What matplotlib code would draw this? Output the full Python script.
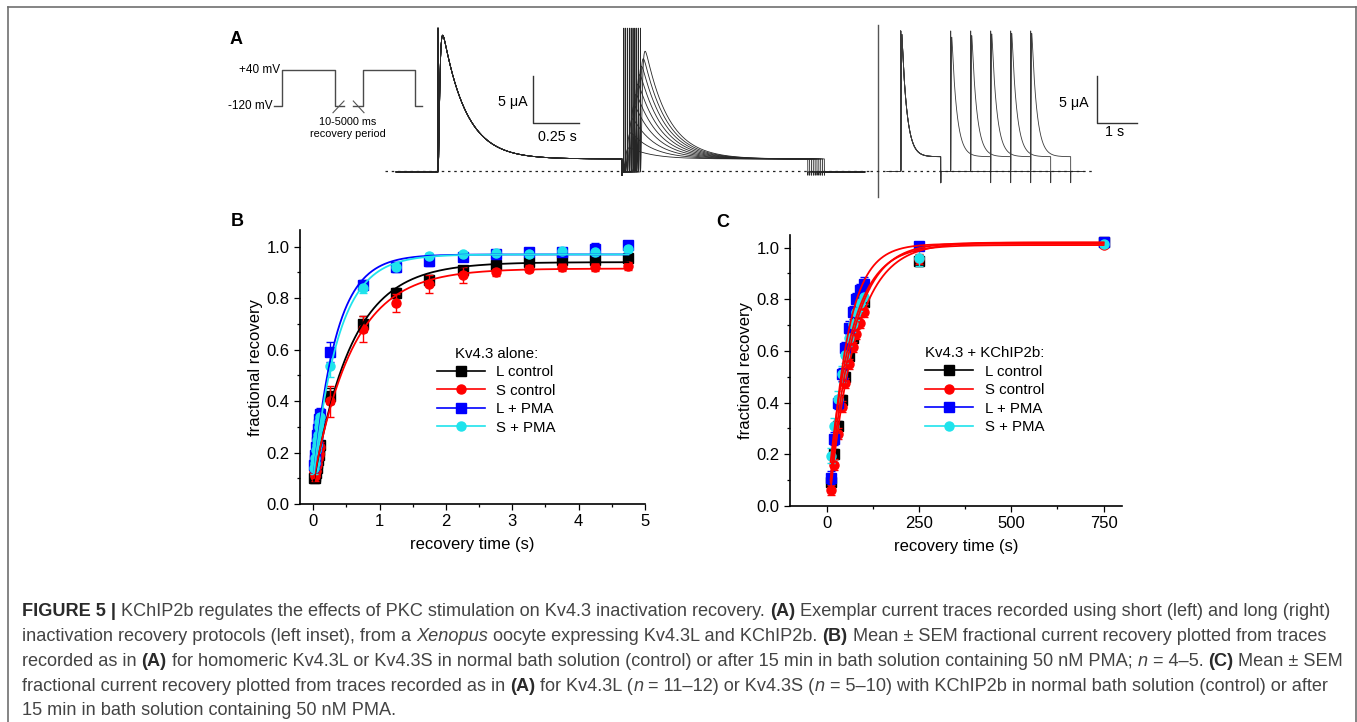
import numpy as np
import matplotlib
matplotlib.use("Agg")
import matplotlib.pyplot as plt
from matplotlib.ticker import MultipleLocator, FormatStrFormatter
from matplotlib.lines import Line2D

W, H = 1357, 722
plt.rcParams['font.family'] = ['Liberation Sans', 'DejaVu Sans']
plt.rcParams['axes.linewidth'] = 1.2

labels = ['L control', 'S control', 'L + PMA', 'S + PMA']
colors = ['#000000', '#ff0000', '#0000ff', '#1fe3ec']
markers = ['s', 'o', 's', 'o']

# ---- panel B : Kv4.3 alone (recovery time in s)
b_time = [0.01, 0.02, 0.03, 0.04, 0.05, 0.06, 0.07, 0.08, 0.09, 0.10,
          0.25, 0.75, 1.25, 1.75, 2.25, 2.75, 3.25, 3.75, 4.25, 4.75]
b_l_ctrl = [0.10, 0.10, 0.11, 0.12, 0.14, 0.16, 0.17, 0.19, 0.21, 0.23,
            0.42, 0.70, 0.82, 0.87, 0.91, 0.93, 0.94, 0.95, 0.95, 0.955]
b_s_ctrl = [0.13, 0.11, 0.12, 0.13, 0.15, 0.16, 0.18, 0.19, 0.20, 0.22,
            0.40, 0.68, 0.78, 0.855, 0.89, 0.90, 0.915, 0.92, 0.92, 0.925]
b_l_pma = [0.15, 0.17, 0.19, 0.22, 0.24, 0.27, 0.29, 0.31, 0.33, 0.35,
           0.59, 0.85, 0.92, 0.945, 0.96, 0.97, 0.98, 0.98, 0.99, 1.005]
b_s_pma = [0.14, 0.16, 0.18, 0.21, 0.23, 0.25, 0.27, 0.30, 0.32, 0.34,
           0.535, 0.84, 0.92, 0.965, 0.97, 0.975, 0.97, 0.985, 0.98, 0.99]
b_l_ctrl_err = [0.015] * 10 + [0.03, 0.03, 0.02, 0.02, 0.015, 0.015, 0.015, 0.02, 0.02, 0.02]
b_s_ctrl_err = [0.02] * 10 + [0.06, 0.05, 0.035, 0.035, 0.03, 0.015, 0.015, 0.015, 0.015, 0.015]
b_l_pma_err = [0.025] * 10 + [0.04, 0.02, 0.02, 0.02, 0.015, 0.015, 0.015, 0.015, 0.025, 0.015]
b_s_pma_err = [0.025] * 10 + [0.04, 0.02, 0.015, 0.01, 0.01, 0.01, 0.01, 0.01, 0.01, 0.01]
# single exponential fits: top, start value, tau (s)
b_fit_top = [0.94, 0.915, 0.97, 0.97]
b_fit_start = [0.09, 0.10, 0.12, 0.12]
b_fit_tau = [0.58, 0.60, 0.34, 0.38]

# ---- panel C : Kv4.3 + KChIP2b
c_time = [10, 20, 30, 40, 50, 60, 70, 80, 90, 100, 250, 750]
c_l_ctrl = [0.094, 0.20, 0.31, 0.41, 0.50, 0.58, 0.65, 0.71, 0.76, 0.79, 0.95, 1.02]
c_s_ctrl = [0.062, 0.16, 0.28, 0.385, 0.475, 0.55, 0.615, 0.665, 0.71, 0.75, 0.955, 1.01]
c_l_pma = [0.11, 0.26, 0.40, 0.51, 0.61, 0.69, 0.75, 0.80, 0.835, 0.86, 1.005, 1.02]
c_s_pma = [0.195, 0.31, 0.415, 0.51, 0.585, 0.65, 0.705, 0.75, 0.785, 0.81, 0.96, 1.015]
c_l_ctrl_err = [0.02] * 10 + [0.02, 0.01]
c_s_ctrl_err = [0.02] * 10 + [0.02, 0.01]
c_l_pma_err = [0.025] * 10 + [0.01, 0.01]
c_s_pma_err = [0.03] * 10 + [0.03, 0.01]
c_fit_top = [1.02, 1.02, 1.015, 1.01]
c_fit_start = [0.09, 0.06, 0.10, 0.17]
c_fit_tau = [64, 71, 49, 63]

# ---- panel A : exemplar traces (time s, current uA)
short_dt = [0.01, 0.02, 0.03, 0.04, 0.05, 0.06, 0.07, 0.08, 0.09, 0.10]
short_peak2 = [2.5, 4.1, 5.6, 7.0, 8.2, 9.3, 10.3, 11.2, 12.0, 12.8]
short_peak1, short_ss = 14.5, 1.28
long_dt = [0.25, 0.75, 1.25, 1.75, 2.25]
long_peak2 = [14.3, 14.47, 14.65, 14.7, 14.7]
long_peak1, long_ss = 14.6, 1.52
# voltage protocol inset (mV)
prot_t1 = [-0.15, 0, 0, 1, 1, 1.17]
prot_t2 = [1.34, 1.53, 1.53, 2.51, 2.51, 2.64]
prot_v = [-120, -120, 40, 40, -120, -120]


def px_rect(l, t, r, b):
    return [l / W, 1 - b / H, (r - l) / W, (b - t) / H]


def fx(x):
    return x / W


def fy(y):
    return 1 - y / H


def sweep(t, dt, pk1, pk2, ss, base, up, down, tau_a=0.006, tau_i=0.125):
    cur = np.full_like(t, base)
    for on, pk in ((0.0, pk1), (1.0 + dt, pk2)):
        m = (t >= on) & (t < on + 1.0)
        s = t[m] - on
        act = (1 - np.exp(-s / tau_a)) ** 3
        shape = act * np.exp(-s / tau_i)
        cur[m] = ss * act + (pk - ss) * shape / shape.max()
        cur[np.searchsorted(t, on)] = up
        cur[np.searchsorted(t, on + 1.0)] = down
    return cur


fig = plt.figure(figsize=(W / 100, H / 100), dpi=100)

# frame
for xs, ys in (([7.5, 7.5], [722, 6.5]), ([7.5, 1355.5], [6.5, 6.5]), ([1355.5, 1355.5], [6.5, 722])):
    fig.add_artist(Line2D([fx(v) for v in xs], [fy(v) for v in ys], color='#707070', lw=1.2))

# ---------- panel A, short protocol
axs = fig.add_axes(px_rect(380, 20, 870, 200))
axs.set_xlim((380 - 438) / 184, (870 - 438) / 184)
axs.set_ylim(-(200 - 171) / 9.4, (171 - 20) / 9.4)
axs.axis('off')
ts = np.arange(-0.228, 2.32, 0.0005)
for dt, pk in zip(short_dt, short_peak2):
    axs.plot(ts, sweep(ts, dt, short_peak1, pk, short_ss, -0.1, 15.2, -0.45),
             color='#262626', lw=0.6)
axs.plot([-0.29, axs.get_xlim()[1]], [0, 0], color='#222', lw=0.9, ls=(0, (2, 3)))
axs.plot([0.516, 0.516, 0.766], [10.1, 5.1, 5.1], color='#333', lw=1.0)
axs.text(0.489, 7.3, '5 μA', ha='right', va='center', fontsize=10.3)
axs.text(0.647, 3.6, '0.25 s', ha='center', va='center', fontsize=10.3)

# ---------- panel A, long protocol
axl = fig.add_axes(px_rect(870, 20, 1140, 200))
axl.set_xlim((870 - 900.7) / 40, (1140 - 900.7) / 40)
axl.set_ylim(-(200 - 171) / 9.4, (171 - 20) / 9.4)
axl.axis('off')
tl = np.arange(-0.34, 4.6, 0.001)
for dt, pk in zip(long_dt, long_peak2):
    axl.plot(tl, sweep(tl, dt, long_peak1, pk, long_ss, -0.05, 14.9, -1.25),
             color='#3a3a3a', lw=0.6)
axl.plot([-0.575, -0.575], [-2.8, 15.5], color='#555', lw=1.0)
axl.plot([axl.get_xlim()[0], 4.86], [0, 0], color='#222', lw=0.9, ls=(0, (2, 3)))
axl.plot([4.915, 4.915, 5.915], [10.07, 5.07, 5.07], color='#333', lw=1.0)
axl.text(4.71, 7.2, '5 μA', ha='right', va='center', fontsize=10.3)
axl.text(5.34, 4.15, '1 s', ha='center', va='center', fontsize=10.3)

# ---------- voltage protocol inset
axv = fig.add_axes(px_rect(262, 60, 430, 140))
axv.set_xlim((262 - 282) / 53, (430 - 282) / 53)
axv.set_ylim(-120 - (140 - 106) * 4.444, 40 + (70 - 60) * 4.444)
axv.axis('off')
axv.plot(prot_t1, prot_v, color='#4a4a4a', lw=1.0)
axv.plot(prot_t2, prot_v, color='#4a4a4a', lw=1.0)
axv.text(-0.04, 40, '+40 mV', ha='right', va='center', fontsize=8.5)
axv.text(-0.175, -120, '-120 mV', ha='right', va='center', fontsize=8.5)
axv.plot([1.17, 0.962], [-97.8, -149.8], color='#555', lw=0.8)
axv.plot([1.345, 1.547], [-97.8, -149.8], color='#555', lw=0.8)
axv.text(1.245, -191, '10-5000 ms', ha='center', va='center', fontsize=7.8)
axv.text(1.245, -244, 'recovery period', ha='center', va='center', fontsize=7.8)


def style_axes(ax):
    for side in ('top', 'right'):
        ax.spines[side].set_visible(False)
    ax.tick_params(which='major', direction='out', length=4.3, width=0.9, labelsize=12, pad=3)
    ax.tick_params(which='minor', direction='out', length=2.3, width=0.9)
    ax.yaxis.set_major_locator(MultipleLocator(0.2))
    ax.yaxis.set_minor_locator(MultipleLocator(0.1))
    ax.yaxis.set_major_formatter(FormatStrFormatter('%.1f'))
    ax.set_ylabel('fractional recovery', fontsize=12, labelpad=3)
    ax.set_xlabel('recovery time (s)', fontsize=12, labelpad=6)


legend_kw = dict(loc='upper left', frameon=False, fontsize=10.8, title_fontsize=10.8,
                 handlelength=3.2, handletextpad=0.75, labelspacing=0.3,
                 borderpad=0, borderaxespad=0)

# ---------- panel B
axb = fig.add_axes(px_rect(300, 230, 645, 504))
b_series = [(b_l_ctrl, b_l_ctrl_err), (b_s_ctrl, b_s_ctrl_err), (b_l_pma, b_l_pma_err), (b_s_pma, b_s_pma_err)]
for k, (y, e) in enumerate(b_series):
    axb.errorbar(b_time, y, yerr=e, fmt=markers[k], color=colors[k], ms=6.5, mec=colors[k],
                 capsize=2.8, elinewidth=1, capthick=1, zorder=2 + k * 0.1)
tt = np.linspace(b_time[0], b_time[-1], 400)
for k in range(4):
    fit = b_fit_top[k] - (b_fit_top[k] - b_fit_start[k]) * np.exp(-(tt - b_time[0]) / b_fit_tau[k])
    axb.plot(tt, fit, color=colors[k], lw=1.3, zorder=3)
axb.set_xlim(-0.2, 5)
axb.set_ylim(0, 1.065)
axb.xaxis.set_major_locator(MultipleLocator(1))
axb.xaxis.set_minor_locator(MultipleLocator(0.5))
style_axes(axb)
hb = [Line2D([], [], color=c, marker=m, ms=6.5, lw=1.2) for c, m in zip(colors, markers)]
axb.legend(hb, labels, title='Kv4.3 alone:', bbox_to_anchor=(0.397, 0.574), **legend_kw)

# ---------- panel C
axc = fig.add_axes(px_rect(790, 235, 1122, 506))
c_series = [(c_l_ctrl, c_l_ctrl_err), (c_s_ctrl, c_s_ctrl_err), (c_l_pma, c_l_pma_err), (c_s_pma, c_s_pma_err)]
for k, (y, e) in enumerate(c_series):
    axc.errorbar(c_time, y, yerr=e, fmt=markers[k], color=colors[k], ms=6.5, mec=colors[k],
                 capsize=2.8, elinewidth=1, capthick=1, zorder=2 + k * 0.1)
tc = np.linspace(c_time[0], c_time[-1], 600)
for k in range(4):
    fit = c_fit_top[k] - (c_fit_top[k] - c_fit_start[k]) * np.exp(-(tc - c_time[0]) / c_fit_tau[k])
    axc.plot(tc, fit, color='#ff0000', lw=1.3, zorder=3)
axc.set_xlim(-100, 800)
axc.set_ylim(0, 1.049)
axc.set_xticks([0, 250, 500, 750])
axc.xaxis.set_minor_locator(MultipleLocator(125))
style_axes(axc)
axc.legend(hb, labels, title='Kv4.3 + KChIP2b:', bbox_to_anchor=(0.407, 0.590), **legend_kw)

# panel letters
for letter, x, y in (('A', 236, 39), ('B', 237.5, 222), ('C', 723, 222.5)):
    fig.text(fx(x), fy(y), letter, fontsize=13, fontweight='bold', ha='center', va='center')

# ---------- caption
N, B, I = ('normal', 'normal'), ('bold', 'normal'), ('normal', 'italic')
caption = [
    [("FIGURE 5 | ", B), ("KChIP2b regulates the effects of PKC stimulation on Kv4.3 inactivation recovery. ", N),
     ("(A)", B), (" Exemplar current traces recorded using short (left) and long (right)", N)],
    [("inactivation recovery protocols (left inset), from a ", N), ("Xenopus", I),
     (" oocyte expressing Kv4.3L and KChIP2b. ", N), ("(B)", B),
     (" Mean ± SEM fractional current recovery plotted from traces", N)],
    [("recorded as in ", N), ("(A)", B),
     (" for homomeric Kv4.3L or Kv4.3S in normal bath solution (control) or after 15 min in bath solution containing 50 nM PMA; ", N),
     ("n", I), (" = 4–5. ", N), ("(C)", B), (" Mean ± SEM", N)],
    [("fractional current recovery plotted from traces recorded as in ", N), ("(A)", B), (" for Kv4.3L (", N),
     ("n", I), (" = 11–12) or Kv4.3S (", N), ("n", I),
     (" = 5–10) with KChIP2b in normal bath solution (control) or after", N)],
    [("15 min in bath solution containing 50 nM PMA.", N)],
]
caption_base = [616, 641, 666, 691, 715]
renderer = fig.canvas.get_renderer()


def run_width(s, fs, st):
    kw = dict(fontsize=fs, fontweight=st[0], fontstyle=st[1])
    a = fig.text(0, 0, '|' + s + '|', **kw)
    b = fig.text(0, 0, '||', **kw)
    w = a.get_window_extent(renderer).width - b.get_window_extent(renderer).width
    a.remove()
    b.remove()
    return w


fs = 10 * 1316 / sum(run_width(s, 10, st) for s, st in caption[0])
for runs, yb in zip(caption, caption_base):
    x = 22.0
    for s, st in runs:
        fig.text(fx(x), fy(yb), s, fontsize=fs, fontweight=st[0], fontstyle=st[1],
                 color='#2a2a2a' if st == B else '#444444', ha='left', va='baseline')
        x += run_width(s, fs, st)

fig.savefig('out.png', dpi=100)
